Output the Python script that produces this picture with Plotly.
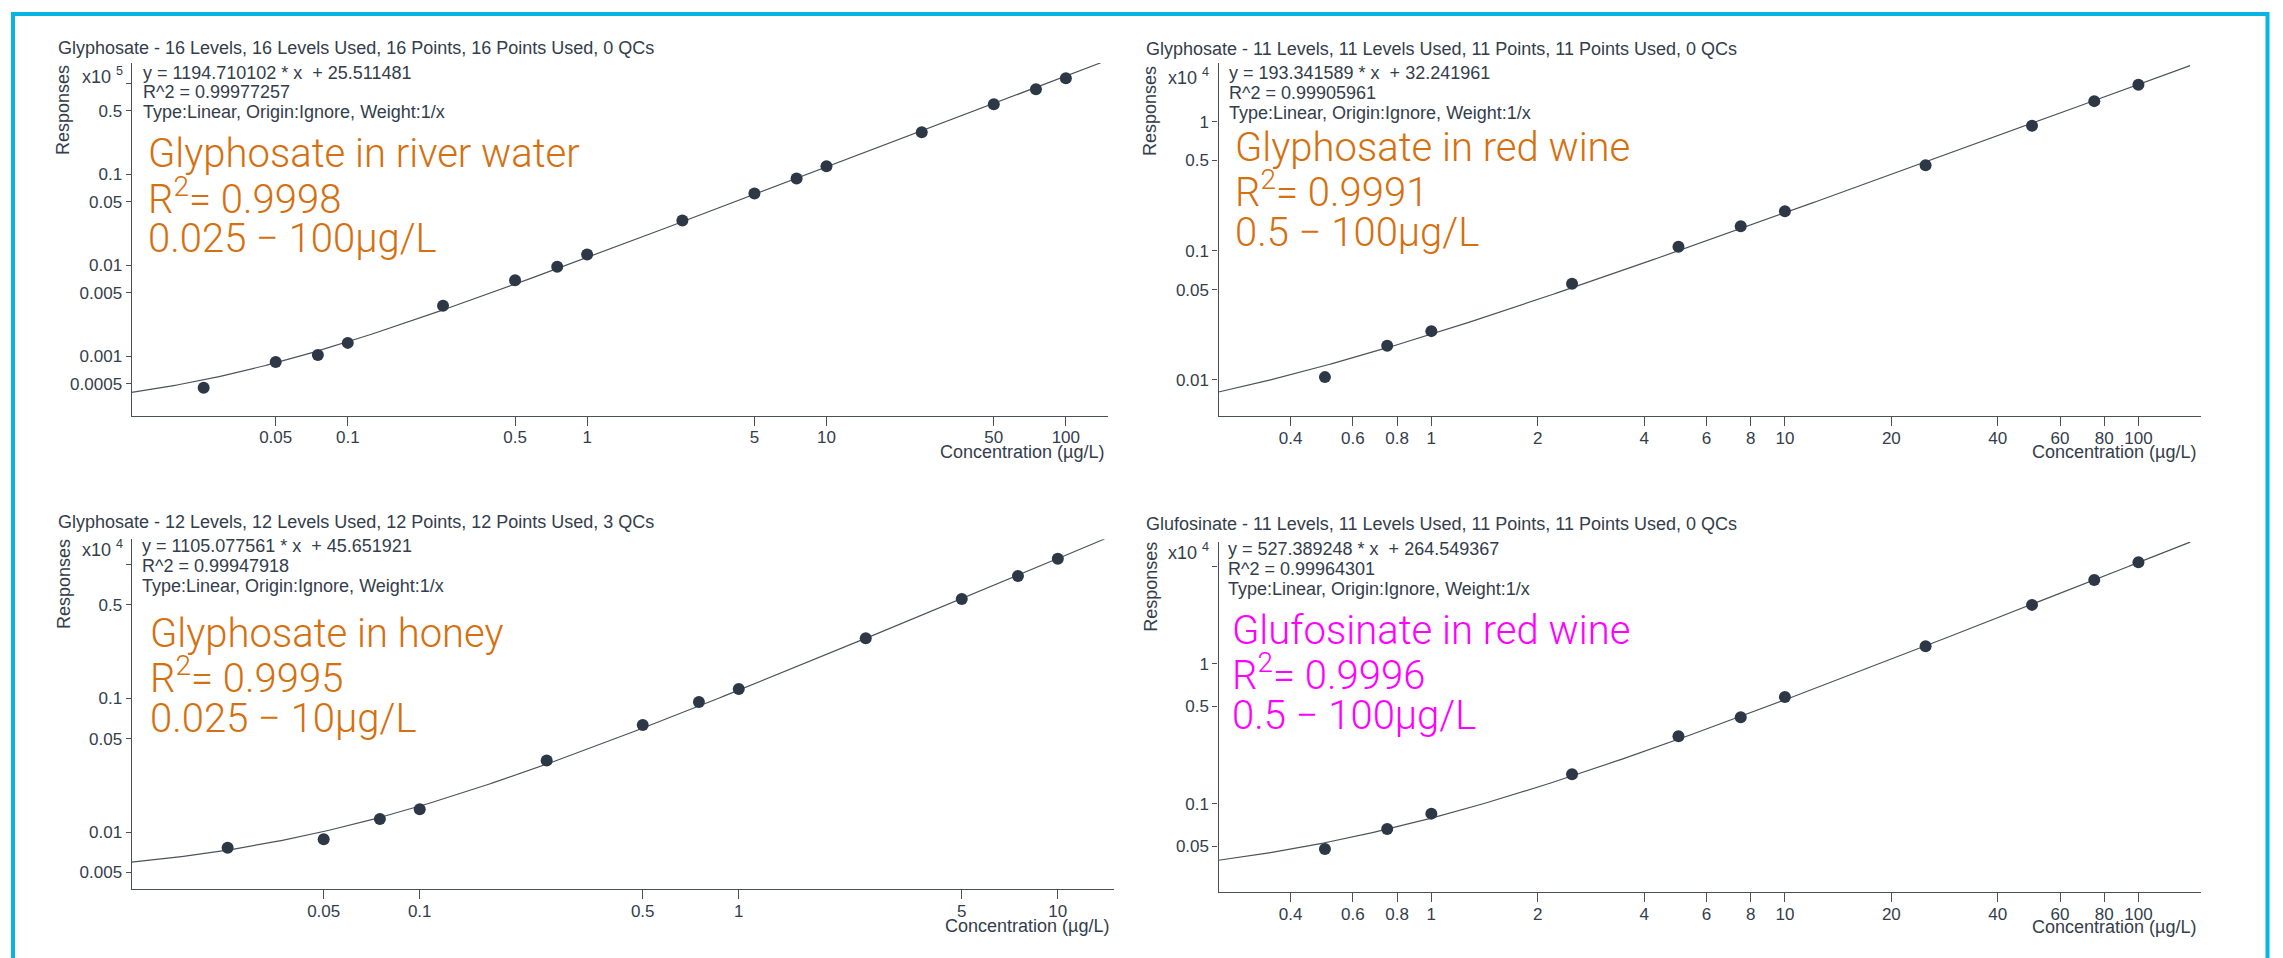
import numpy as np
import plotly.graph_objects as go

W, H = 2283, 958

# ---------------- data ----------------
titles = [
    "Glyphosate - 16 Levels, 16 Levels Used, 16 Points, 16 Points Used, 0 QCs",
    "Glyphosate - 11 Levels, 11 Levels Used, 11 Points, 11 Points Used, 0 QCs",
    "Glyphosate - 12 Levels, 12 Levels Used, 12 Points, 12 Points Used, 3 QCs",
    "Glufosinate - 11 Levels, 11 Levels Used, 11 Points, 11 Points Used, 0 QCs",
]

conc_river = [0.025, 0.05, 0.075, 0.1, 0.25, 0.5, 0.75, 1, 2.5, 5, 7.5, 10, 25, 50, 75, 100]
resp_river = [0.000454, 0.000868, 0.001035, 0.00141, 0.0036, 0.00688, 0.00967, 0.01315,
              0.031, 0.0614, 0.0896, 0.1224, 0.289, 0.586, 0.855, 1.13]          # x10^5

conc_wine = [0.5, 0.75, 1, 2.5, 5, 7.5, 10, 25, 50, 75, 100]
resp_wine = [0.0105, 0.01836, 0.02384, 0.0555, 0.1075, 0.1545, 0.2019, 0.459, 0.926, 1.439, 1.925]  # x10^4

conc_honey = [0.025, 0.05, 0.075, 0.1, 0.25, 0.5, 0.75, 1, 2.5, 5, 7.5, 10]
resp_honey = [0.00764, 0.00882, 0.0125, 0.01478, 0.0342, 0.0632, 0.0938, 0.1175, 0.281, 0.553, 0.822, 1.107]  # x10^4

conc_glufo = [0.5, 0.75, 1, 2.5, 5, 7.5, 10, 25, 50, 75, 100]
resp_glufo = [0.0477, 0.0663, 0.0853, 0.163, 0.304, 0.416, 0.581, 1.337, 2.64, 3.98, 5.32]  # x10^4

slopes = [1194.710102, 193.341589, 1105.077561, 527.389248]
intercepts = [25.511481, 32.241961, 45.651921, 264.549367]
scales = [1e5, 1e4, 1e4, 1e4]
scale_labels = ["5", "4", "4", "4"]

eq_texts = [
    "y = 1194.710102 * x \u00a0+ 25.511481",
    "y = 193.341589 * x \u00a0+ 32.241961",
    "y = 1105.077561 * x \u00a0+ 45.651921",
    "y = 527.389248 * x \u00a0+ 264.549367",
]
r2_texts = ["R^2 = 0.99977257", "R^2 = 0.99905961", "R^2 = 0.99947918", "R^2 = 0.99964301"]
type_text = "Type:Linear, Origin:Ignore, Weight:1/x"

big_line1 = ["Glyphosate in river water", "Glyphosate in red wine", "Glyphosate in honey", "Glufosinate in red wine"]
big_line2 = ["R<sup>2</sup>= 0.9998", "R<sup>2</sup>= 0.9991", "R<sup>2</sup>= 0.9995", "R<sup>2</sup>= 0.9996"]
big_line3 = ["0.025 \u2212 100µg/L", "0.5 \u2212 100µg/L", "0.025 \u2212 10µg/L", "0.5 \u2212 100µg/L"]
big_colors = ["#d4700f", "#d4700f", "#d4700f", "#ff00ff"]

x_ticks_a = [0.05, 0.1, 0.5, 1, 5, 10, 50, 100]
x_ticks_b = [0.4, 0.6, 0.8, 1, 2, 4, 6, 8, 10, 20, 40, 60, 80, 100]
x_ticks_c = [0.05, 0.1, 0.5, 1, 5, 10]
y_ticks_1 = [0.0005, 0.001, 0.005, 0.01, 0.05, 0.1, 0.5, 1]
y_ticks_2 = [0.01, 0.05, 0.1, 0.5, 1]
y_ticks_3 = [0.005, 0.01, 0.05, 0.1, 0.5, 1]
y_ticks_4 = [0.05, 0.1, 0.5, 1, 5]
y_hidden = [1, None, 1, 5]   # tick drawn without label

concs = [conc_river, conc_wine, conc_honey, conc_glufo]
resps = [resp_river, resp_wine, resp_honey, resp_glufo]
xticks = [x_ticks_a, x_ticks_b, x_ticks_c, x_ticks_b]
yticks = [y_ticks_1, y_ticks_2, y_ticks_3, y_ticks_4]

# ---------------- layout geometry (pixels) ----------------
dom_x = [(131.6, 1108), (1218.5, 2200.7), (131.6, 1114), (1218.5, 2200.7)]
dom_y = [(63, 415.5), (63, 416), (539.3, 889.3), (541.7, 892.3)]
x_ranges = [(0.0125, 150), (0.25, 150), (0.0125, 15), (0.25, 150)]
y_ranges = [(2.25e-4, 1.663), (5.25e-3, 2.84), (3.73e-3, 1.545), (0.0234, 7.46)]

title_pos = [(56, 48.3), (1143.6, 49), (56, 522.3), (1143.6, 524.3)]
eq_pos = [(141, (72.7, 92.3, 111.7)), (1226.5, (73.3, 93.3, 112.7)),
          (140, (546, 566, 586)), (1226, (549, 568.7, 588.7))]
big_pos = [(146, (153.5, 196, 238.5)), (1232.5, (147.2, 189.7, 232.2)),
           (148, (633, 675.5, 718)), (1230.4, (630, 672.5, 715))]
xscale_pos = [(125, 75), (1211, 76.7), (125, 548.3), (1211, 551)]
resp_pos = [(63, 110), (1150, 111), (64, 584), (1151, 586.7)]
conc_pos = [(1106, 451.7), (2198, 452.3), (1111, 925.7), (2198, 927.3)]

TXT = "#333d4b"
AX = "#4a5059"
SMALL = dict(family="Liberation Sans, Arial, sans-serif", size=18, color=TXT)
TICKF = dict(family="Liberation Sans, Arial, sans-serif", size=17, color=TXT)


def px(x):
    return x / W


def py(y):
    return 1 - y / H


fig = go.Figure()
annotations = []

for i in range(4):
    n = i + 1
    xa = "x" if n == 1 else f"x{n}"
    ya = "y" if n == 1 else f"y{n}"
    s = scales[i]
    # regression line from the displayed equation
    x_lo, x_hi = x_ranges[i][0], max(concs[i]) * 1.4
    xs = np.geomspace(x_lo, x_hi, 300)
    ys = (slopes[i] * xs + intercepts[i]) / s
    fig.add_trace(go.Scatter(x=xs, y=ys, mode="lines", xaxis=xa, yaxis=ya,
                             line=dict(color="#4d535c", width=1.2), hoverinfo="skip"))
    fig.add_trace(go.Scatter(x=concs[i], y=resps[i], mode="markers", xaxis=xa, yaxis=ya,
                             marker=dict(color="#2d3846", size=12)))

    ttext = []
    for v in yticks[i]:
        if y_hidden[i] is not None and v == y_hidden[i]:
            ttext.append(" ")
        else:
            ttext.append(f"{v:g}")

    axx = dict(type="log", domain=[px(dom_x[i][0]), px(dom_x[i][1])],
               range=[np.log10(x_ranges[i][0]), np.log10(x_ranges[i][1])],
               anchor=ya, showline=True, linecolor=AX, linewidth=1.2,
               ticks="outside", ticklen=9, tickcolor=AX, tickwidth=1,
               ticklabelstandoff=-3,
               tickvals=xticks[i], ticktext=[f"{v:g}" for v in xticks[i]],
               tickfont=TICKF, showgrid=False, zeroline=False)
    axy = dict(type="log", domain=[py(dom_y[i][1]), py(dom_y[i][0])],
               range=[np.log10(y_ranges[i][0]), np.log10(y_ranges[i][1])],
               anchor=xa, showline=True, linecolor=AX, linewidth=1.2,
               ticks="outside", ticklen=5, tickcolor=AX, tickwidth=1,
               tickvals=yticks[i], ticktext=ttext,
               tickfont=TICKF, showgrid=False, zeroline=False)
    fig.layout[f"xaxis{'' if n == 1 else n}"] = axx
    fig.layout[f"yaxis{'' if n == 1 else n}"] = axy

    # title
    annotations.append(dict(text=titles[i], x=px(title_pos[i][0]), y=py(title_pos[i][1]),
                            xanchor="left", yanchor="middle", font=SMALL))
    # equation block
    ex, eys = eq_pos[i]
    for t, yy in zip([eq_texts[i], r2_texts[i], type_text], eys):
        annotations.append(dict(text=t, x=px(ex), y=py(yy), xanchor="left", yanchor="middle", font=SMALL))
    # big coloured annotation
    bx, bys = big_pos[i]
    for t, yy in zip([big_line1[i], big_line2[i], big_line3[i]], bys):
        annotations.append(dict(text=t, x=px(bx), y=py(yy), xanchor="left", yanchor="middle",
                                font=dict(family="Roboto", size=40, color=big_colors[i], weight=300)))
    # x10^n
    annotations.append(dict(text=f"x10 <sup>{scale_labels[i]}</sup>", x=px(xscale_pos[i][0]),
                            y=py(xscale_pos[i][1]), xanchor="right", yanchor="middle", font=SMALL))
    # axis titles
    annotations.append(dict(text="Responses", textangle=-90, x=px(resp_pos[i][0]), y=py(resp_pos[i][1]),
                            xanchor="center", yanchor="middle", font=SMALL))
    annotations.append(dict(text="Concentration (µg/L)", x=px(conc_pos[i][0]), y=py(conc_pos[i][1]),
                            xanchor="right", yanchor="middle", font=SMALL))

for a in annotations:
    a.update(xref="paper", yref="paper", showarrow=False)

fig.update_layout(
    width=W, height=H, margin=dict(l=0, r=0, t=0, b=0),
    paper_bgcolor="white", plot_bgcolor="white", showlegend=False,
    annotations=annotations,
    shapes=[dict(type="rect", xref="paper", yref="paper",
                 x0=px(13), x1=px(2267.5), y0=py(14), y1=py(1000),
                 line=dict(color="#0ab4e2", width=4))],
)

fig.write_html("out.html", config={"displayModeBar": False},
               post_script="document.body.style.margin='0';document.body.style.overflow='hidden';")
